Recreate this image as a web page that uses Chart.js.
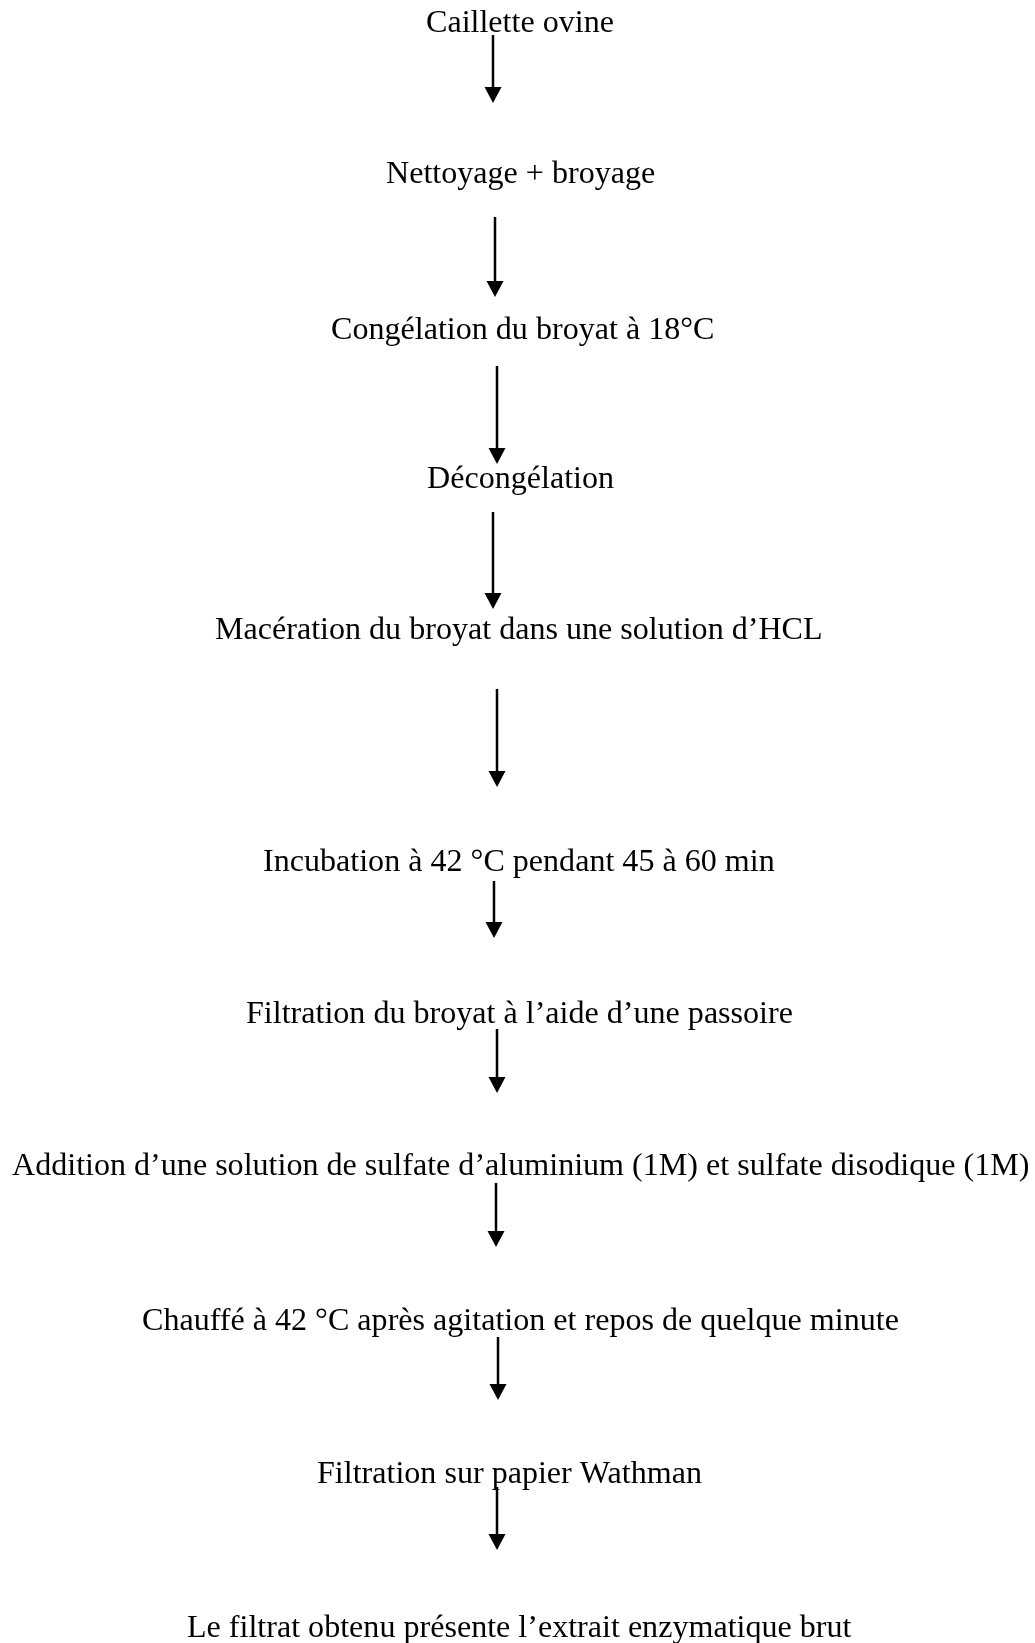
<!DOCTYPE html>
<html>
<head>
<meta charset="utf-8">
<title>Extraction de l'extrait enzymatique</title>
<script src="https://cdn.jsdelivr.net/npm/chart.js@4.4.1/dist/chart.umd.min.js"></script>
<style>
  html, body { margin: 0; padding: 0; background: #ffffff; }
  canvas { display: block; }
</style>
</head>
<body>
<canvas id="flowChart" width="1035" height="1643"></canvas>
<script>
// Steps of the procedure (text, left edge, baseline)
const stepLabels = [
    'Caillette ovine',
    'Nettoyage + broyage',
    'Congélation du broyat à 18°C',
    'Décongélation',
    'Macération du broyat dans une solution d\u2019HCL',
    'Incubation à 42 °C pendant 45 à 60 min',
    'Filtration du broyat à l\u2019aide d\u2019une passoire',
    'Addition d\u2019une solution de sulfate d\u2019aluminium (1M) et sulfate disodique (1M)',
    'Chauffé à 42 °C après agitation et repos de quelque minute',
    'Filtration sur papier Wathman',
    'Le filtrat obtenu présente l\u2019extrait enzymatique brut'
];
const stepX = [426, 386, 331, 427, 215, 263, 246, 12, 142, 317, 187];
const stepY = [32, 183, 339, 488, 639, 871, 1023, 1175, 1330, 1483, 1637];

// Arrows between steps: x, start and tip
const arrowX = [493, 495, 497, 493, 497, 494, 497, 496, 498, 497];
const arrowFrom = [35, 217, 366, 512, 689, 881, 1029, 1183, 1337, 1487];
const arrowTo = [103, 297, 464, 609, 787, 938, 1093, 1247, 1400, 1550];

const serif = '"Liberation Serif", "Times New Roman", serif';

// Build datasets from the arrays
var datasets = [{
    label: 'steps',
    data: stepX.map(function(x, i) { return { x: x, y: stepY[i] }; }),
    pointRadius: 0,
    showLine: false
}];
arrowX.forEach(function(x, i) {
    datasets.push({
        label: 'arrow' + i,
        data: [{ x: x, y: arrowFrom[i] }, { x: x, y: arrowTo[i] - 8 }],
        showLine: true,
        borderColor: '#000000',
        borderWidth: 2.5,
        borderCapStyle: 'butt',
        pointRadius: 0
    });
});

// Draw step texts and arrow heads at the positions the scales give
const flowPlugin = {
    id: 'flowPlugin',
    afterDatasetsDraw: function(chart) {
        var ctx = chart.ctx;
        var yScale = chart.scales.y;
        ctx.save();
        ctx.fillStyle = '#000000';
        ctx.font = '32.1px ' + serif;
        ctx.textAlign = 'left';
        ctx.textBaseline = 'alphabetic';
        chart.getDatasetMeta(0).data.forEach(function(el, i) {
            ctx.fillText(stepLabels[i], el.x, el.y);
        });
        for (var i = 0; i < arrowX.length; i++) {
            var pts = chart.getDatasetMeta(i + 1).data;
            var px = pts[1].x;
            var tip = yScale.getPixelForValue(arrowTo[i]);
            ctx.beginPath();
            ctx.moveTo(px, tip);
            ctx.lineTo(px - 8.5, tip - 16);
            ctx.lineTo(px + 8.5, tip - 16);
            ctx.closePath();
            ctx.fill();
        }
        ctx.restore();
    }
};

var ctx = document.getElementById('flowChart').getContext('2d');
var flowChart = new Chart(ctx, {
    type: 'scatter',
    data: { datasets: datasets },
    options: {
        responsive: false,
        animation: false,
        events: [],
        layout: { padding: 0 },
        scales: {
            x: { type: 'linear', min: 0, max: 1035, display: false },
            y: { type: 'linear', min: 0, max: 1643, reverse: true, display: false }
        },
        plugins: {
            legend: { display: false },
            tooltip: { enabled: false },
            title: { display: false }
        }
    },
    plugins: [flowPlugin]
});
</script>
</body>
</html>
